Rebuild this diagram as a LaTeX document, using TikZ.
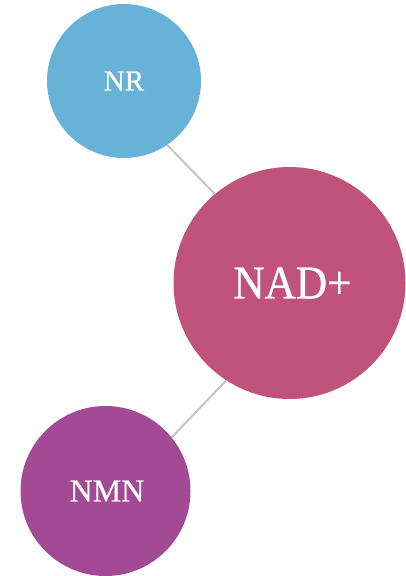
\documentclass[tikz,border=0pt]{standalone}
\usepackage{fontspec}
\setmainfont[FakeBold=0.6]{Liberation Serif}
\newfontfamily\narrowserif[FakeStretch=0.92, FakeBold=0.6]{Liberation Serif}
\usepackage{tikz}
\definecolor{nrblue}{HTML}{67B2D6}
\definecolor{nadrose}{HTML}{C0537A}
\definecolor{nmnpurple}{HTML}{A34A94}
\definecolor{linkgray}{HTML}{C4C4C4}
\begin{document}
\begin{tikzpicture}[x=1pt, y=-1pt,
    bubble/.style={circle, inner sep=0pt, text=white},
    link/.style={draw=linkgray, line width=2pt}]
            \useasboundingbox (0,0) rectangle (405,576);

            \node[bubble, fill=nrblue, minimum size=154pt, font=\fontsize{29}{29}\selectfont] (nr) at (124,81) {NR}; % NR
            \node[bubble, fill=nadrose, minimum size=232pt, font=\narrowserif\fontsize{47}{47}\selectfont] (nad) at (289.5,283) {\hspace{6pt}NAD+}; % NAD+
            \node[bubble, fill=nmnpurple, minimum size=170pt, font=\fontsize{32}{32}\selectfont] (nmn) at (105.5,491) {\hspace{3pt}NMN}; % NMN

            \draw[link] (nr.-56) -- (nad.130); % NR - NAD+
            \draw[link] (nad.-123) -- (nmn.39); % NAD+ - NMN

        \end{tikzpicture}
\end{document}
